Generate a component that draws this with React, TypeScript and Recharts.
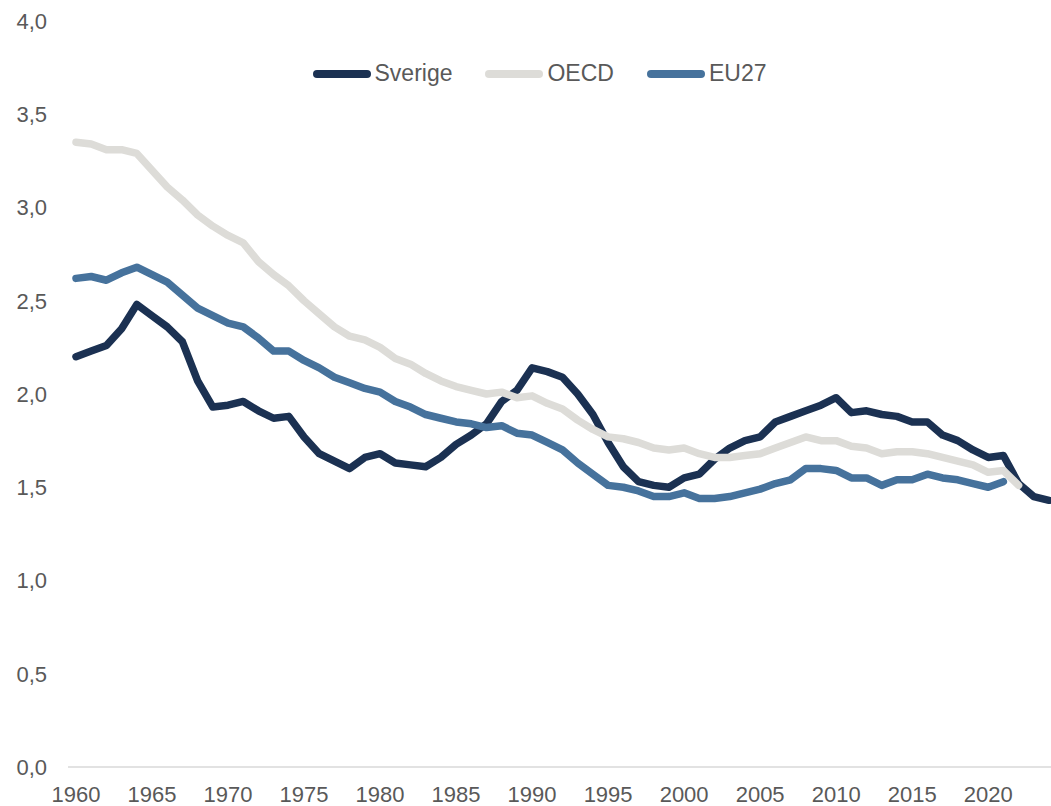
import { LineChart, Line, XAxis, YAxis, Legend } from "recharts"

const years = Array.from({ length: 65 }, (_, i) => String(1960 + i))

const sverige = [
  2.2, 2.23, 2.26, 2.35, 2.48, 2.42, 2.36, 2.28, 2.07, 1.93,
  1.94, 1.96, 1.91, 1.87, 1.88, 1.77, 1.68, 1.64, 1.6, 1.66,
  1.68, 1.63, 1.62, 1.61, 1.66, 1.73, 1.78, 1.84, 1.96, 2.02,
  2.14, 2.12, 2.09, 2.0, 1.89, 1.74, 1.61, 1.53, 1.51, 1.5,
  1.55, 1.57, 1.65, 1.71, 1.75, 1.77, 1.85, 1.88, 1.91, 1.94,
  1.98, 1.9, 1.91, 1.89, 1.88, 1.85, 1.85, 1.78, 1.75, 1.7,
  1.66, 1.67, 1.52, 1.45, 1.43,
]

const oecd = [
  3.35, 3.34, 3.31, 3.31, 3.29, 3.2, 3.11, 3.04, 2.96, 2.9,
  2.85, 2.81, 2.71, 2.64, 2.58, 2.5, 2.43, 2.36, 2.31, 2.29,
  2.25, 2.19, 2.16, 2.11, 2.07, 2.04, 2.02, 2.0, 2.01, 1.98,
  1.99, 1.95, 1.92, 1.86, 1.81, 1.77, 1.76, 1.74, 1.71, 1.7,
  1.71, 1.68, 1.66, 1.66, 1.67, 1.68, 1.71, 1.74, 1.77, 1.75,
  1.75, 1.72, 1.71, 1.68, 1.69, 1.69, 1.68, 1.66, 1.64, 1.62,
  1.58, 1.59, 1.51,
]

const eu27 = [
  2.62, 2.63, 2.61, 2.65, 2.68, 2.64, 2.6, 2.53, 2.46, 2.42,
  2.38, 2.36, 2.3, 2.23, 2.23, 2.18, 2.14, 2.09, 2.06, 2.03,
  2.01, 1.96, 1.93, 1.89, 1.87, 1.85, 1.84, 1.82, 1.83, 1.79,
  1.78, 1.74, 1.7, 1.63, 1.57, 1.51, 1.5, 1.48, 1.45, 1.45,
  1.47, 1.44, 1.44, 1.45, 1.47, 1.49, 1.52, 1.54, 1.6, 1.6,
  1.59, 1.55, 1.55, 1.51, 1.54, 1.54, 1.57, 1.55, 1.54, 1.52,
  1.5, 1.53,
]

const seriesOrder = ["Sverige", "OECD", "EU27"]
const xTicks = ["1960", "1965", "1970", "1975", "1980", "1985", "1990", "1995", "2000", "2005", "2010", "2015", "2020"]
const yTicks = [0, 0.5, 1, 1.5, 2, 2.5, 3, 3.5, 4]

const FONT = "'Liberation Sans', Arial, sans-serif"
const TEXT = "#595959"

const data = years.map((year, i) => ({
  year,
  sverige: sverige[i] ?? null,
  oecd: oecd[i] ?? null,
  eu27: eu27[i] ?? null,
}))

const fmt = (v: number) => v.toFixed(1).replace(".", ",")

// legend kept in series order (recharts sorts by name otherwise)
function LegendRow({ payload }: any) {
  const items = [...(payload || [])].sort(
    (a: any, b: any) => seriesOrder.indexOf(a.value) - seriesOrder.indexOf(b.value)
  )
  return (
    <div style={{ display: "flex", justifyContent: "center", alignItems: "center", gap: 33, fontSize: 23, color: TEXT, fontFamily: FONT }}>
      {items.map((p: any) => (
        <div key={p.value} style={{ display: "flex", alignItems: "center" }}>
          <span style={{ display: "inline-block", width: 58, height: 8, borderRadius: 4, background: p.color, marginRight: 4 }} />
          <span>{p.value}</span>
        </div>
      ))}
    </div>
  )
}

export default function App() {
  return (
    <div style={{ position: "absolute", left: 0, top: 0, width: 1051, height: 806, overflow: "hidden", background: "#fff", fontFamily: FONT }}>
      <LineChart width={1057} height={806} data={data} margin={{ top: 21, right: 0, bottom: 0, left: 0 }}>
        <XAxis
          dataKey="year"
          ticks={xTicks}
          interval={0}
          padding={{ left: 8, right: 8 }}
          height={39}
          tickLine={false}
          tickSize={0}
          tickMargin={19}
          axisLine={{ stroke: "#d9d9d9", strokeWidth: 1.5 }}
          tick={{ fill: TEXT, fontSize: 22, fontFamily: FONT }}
        />
        <YAxis
          domain={[0, 4]}
          ticks={yTicks}
          width={68}
          axisLine={false}
          tickLine={false}
          tickSize={0}
          tickMargin={21}
          tickFormatter={fmt}
          tick={{ fill: TEXT, fontSize: 22, fontFamily: FONT }}
        />
        <Legend
          verticalAlign="middle"
          align="center"
          content={<LegendRow />}
          wrapperStyle={{ top: 60, left: 14, width: 1051 }}
        />
        <Line type="linear" dataKey="sverige" name="Sverige" stroke="#1b3152" strokeWidth={7.5} dot={false} activeDot={false} strokeLinejoin="round" strokeLinecap="round" isAnimationActive={false} />
        <Line type="linear" dataKey="oecd" name="OECD" stroke="#dddcd8" strokeWidth={7.5} dot={false} activeDot={false} strokeLinejoin="round" strokeLinecap="round" isAnimationActive={false} />
        <Line type="linear" dataKey="eu27" name="EU27" stroke="#46729c" strokeWidth={7.5} dot={false} activeDot={false} strokeLinejoin="round" strokeLinecap="round" isAnimationActive={false} />
      </LineChart>
    </div>
  )
}
